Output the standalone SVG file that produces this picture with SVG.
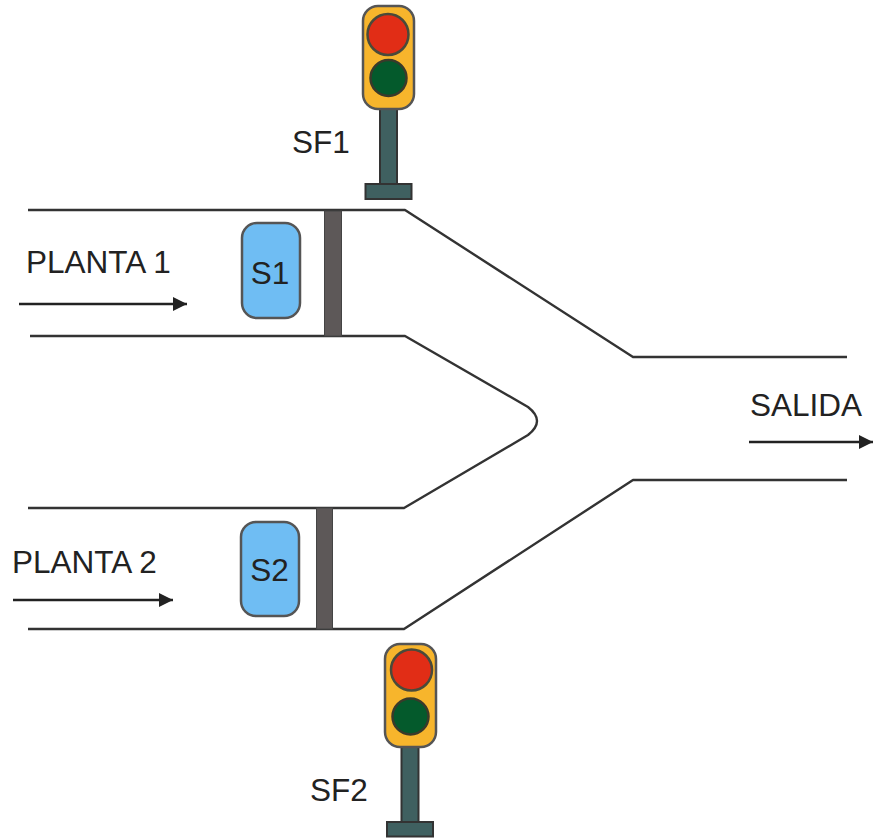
<svg xmlns="http://www.w3.org/2000/svg" width="873" height="839" viewBox="0 0 873 839">
<style>
text{font-family:"Liberation Sans",Arial,sans-serif;fill:#222;font-size:31.500px}
.road{fill:none;stroke:#333;stroke-width:2.4;stroke-linejoin:round}
.flow{fill:none;stroke:#222;stroke-width:2.4}
.gate{fill:#5d5858;stroke:#444;stroke-width:1}
.sensor{fill:#6fbdf3;stroke:#555;stroke-width:2.5}
.housing{fill:#f7b52c;stroke:#555;stroke-width:2.5}
.red{fill:#e12d16;stroke:#4a4a3a;stroke-width:2.5}
.green{fill:#045a2c;stroke:#3a3a2a;stroke-width:2.5}
.pole{fill:#3f6060;stroke:#333;stroke-width:2}
</style>
<defs>
<marker id="arrow" markerUnits="userSpaceOnUse" markerWidth="15" markerHeight="16" refX="14" refY="8" orient="auto"><path d="M0 1L14 8L0 15Z" fill="#222"/></marker>
</defs>
<g id="connectors">
<path class="road" d="M28 210H405L633 357H847"/>
<path class="road" d="M30 336H405L528 407Q546 421 528 435L404 508H28"/>
<path class="road" d="M28 629H404L633 480H847"/>
<path class="flow" marker-end="url(#arrow)" d="M19 304H187"/>
<path class="flow" marker-end="url(#arrow)" d="M13 600H173"/>
<path class="flow" marker-end="url(#arrow)" d="M749 442H873"/>
</g>
<g id="gate1"><rect class="gate" x="324.500" y="211" width="17" height="125"/></g>
<g id="gate2"><rect class="gate" x="316.500" y="508" width="16" height="121"/></g>
<g id="s1"><rect class="sensor" x="242" y="223" width="58" height="95" rx="15"/><text x="270" y="284" text-anchor="middle">S1</text></g>
<g id="s2"><rect class="sensor" x="241" y="522" width="58" height="94" rx="15"/><text x="269.500" y="581" text-anchor="middle">S2</text></g>
<g id="sf1">
<rect class="pole" x="380" y="105" width="17" height="79"/>
<rect class="pole" x="365.500" y="184" width="46" height="15"/>
<rect class="housing" x="363" y="6" width="51" height="103" rx="15"/>
<circle class="red" cx="388" cy="34.500" r="20.500"/>
<circle class="green" cx="388.500" cy="78" r="18"/>
<text x="292" y="153">SF1</text>
</g>
<g id="sf2">
<rect class="pole" x="401.500" y="745" width="17" height="78"/>
<rect class="pole" x="387" y="822" width="46" height="14.500"/>
<rect class="housing" x="385" y="644" width="51" height="103" rx="15"/>
<circle class="red" cx="411.500" cy="670" r="20.500"/>
<circle class="green" cx="410.500" cy="716.500" r="18"/>
<text x="310" y="801">SF2</text>
</g>
<g id="planta1"><text x="26" y="273">PLANTA 1</text></g>
<g id="planta2"><text x="12" y="573">PLANTA 2</text></g>
<g id="salida"><text x="750" y="416">SALIDA</text></g>
</svg>
